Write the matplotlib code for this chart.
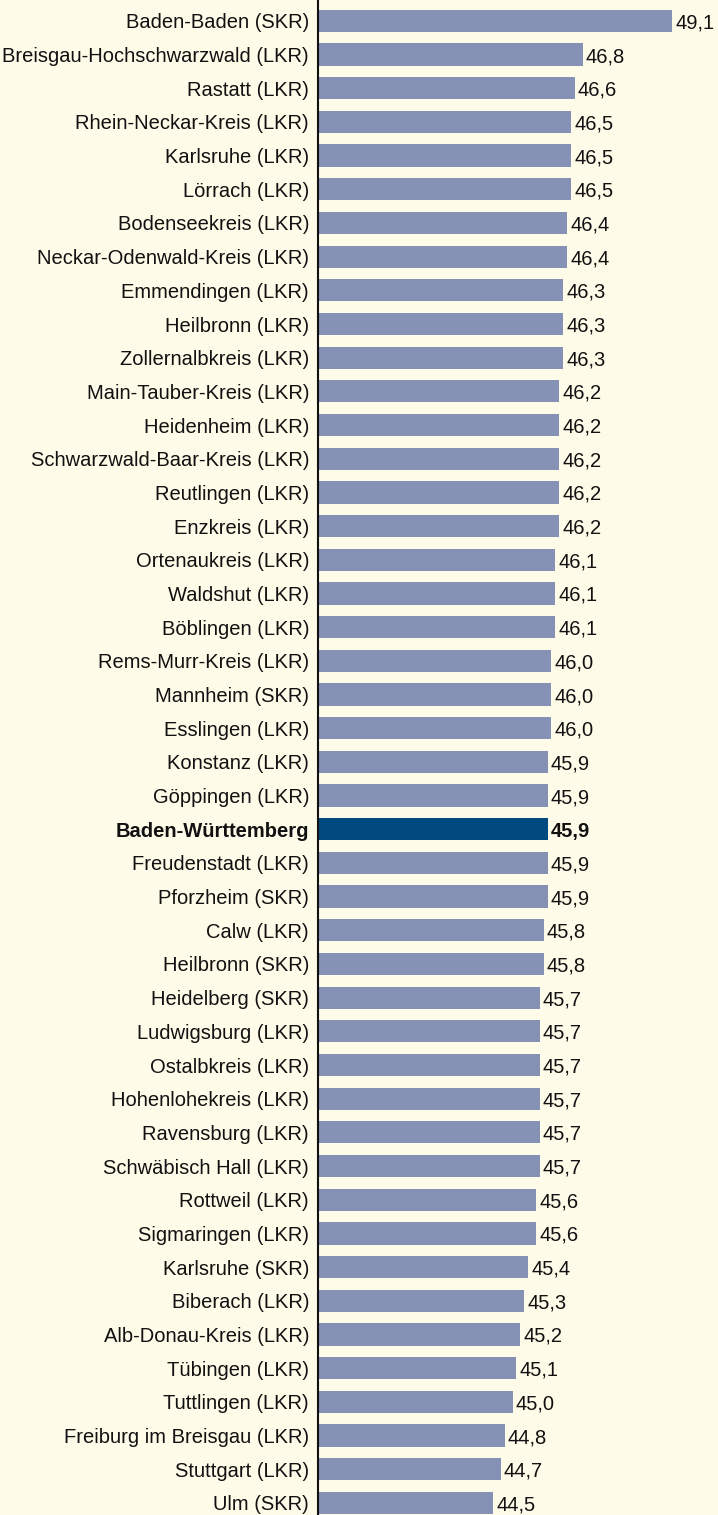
import matplotlib
matplotlib.use("Agg")
import matplotlib.pyplot as plt

labels = ["Baden-Baden (SKR)", "Breisgau-Hochschwarzwald (LKR)", "Rastatt (LKR)",
          "Rhein-Neckar-Kreis (LKR)", "Karlsruhe (LKR)", "Lörrach (LKR)",
          "Bodenseekreis (LKR)", "Neckar-Odenwald-Kreis (LKR)", "Emmendingen (LKR)",
          "Heilbronn (LKR)", "Zollernalbkreis (LKR)", "Main-Tauber-Kreis (LKR)",
          "Heidenheim (LKR)", "Schwarzwald-Baar-Kreis (LKR)", "Reutlingen (LKR)",
          "Enzkreis (LKR)", "Ortenaukreis (LKR)", "Waldshut (LKR)", "Böblingen (LKR)",
          "Rems-Murr-Kreis (LKR)", "Mannheim (SKR)", "Esslingen (LKR)", "Konstanz (LKR)",
          "Göppingen (LKR)", "Baden-Württemberg", "Freudenstadt (LKR)", "Pforzheim (SKR)",
          "Calw (LKR)", "Heilbronn (SKR)", "Heidelberg (SKR)", "Ludwigsburg (LKR)",
          "Ostalbkreis (LKR)", "Hohenlohekreis (LKR)", "Ravensburg (LKR)",
          "Schwäbisch Hall (LKR)", "Rottweil (LKR)", "Sigmaringen (LKR)",
          "Karlsruhe (SKR)", "Biberach (LKR)", "Alb-Donau-Kreis (LKR)", "Tübingen (LKR)",
          "Tuttlingen (LKR)", "Freiburg im Breisgau (LKR)", "Stuttgart (LKR)", "Ulm (SKR)"]
values = [49.1, 46.8, 46.6, 46.5, 46.5, 46.5, 46.4, 46.4, 46.3, 46.3, 46.3, 46.2,
          46.2, 46.2, 46.2, 46.2, 46.1, 46.1, 46.1, 46.0, 46.0, 46.0, 45.9, 45.9,
          45.9, 45.9, 45.9, 45.8, 45.8, 45.7, 45.7, 45.7, 45.7, 45.7, 45.7, 45.6,
          45.6, 45.4, 45.3, 45.2, 45.1, 45.0, 44.8, 44.7, 44.5]
highlight = "Baden-Württemberg"

plt.rcParams['font.family'] = ['Liberation Sans', 'DejaVu Sans']
bg = "#fffbe9"

fig = plt.figure(figsize=(7.18, 15.15), dpi=100, facecolor=bg)
ax = fig.add_axes([318 / 718, 0, 1 - 318 / 718, 1])
ax.set_facecolor(bg)

ypos = list(range(len(labels)))
colors = ["#004a7f" if l == highlight else "#8591b5" for l in labels]
ax.barh(ypos, [v - 40 for v in values], left=40, height=0.66, color=colors)

for y, l, v in zip(ypos, labels, values):
    bold = "bold" if l == highlight else "normal"
    ax.text(v + 0.08, y, f"{v:.1f}".replace(".", ","), va="center_baseline",
            ha="left", fontsize=14.5, fontweight=bold, color="#111111")
    ax.text(39.77, y, l, va="center_baseline", ha="right", fontsize=14.5,
            fontweight=bold, color="#111111")

ax.set_xlim(40, 50.28)
ax.set_ylim(len(labels) - 1 + 0.36, -0.62)
ax.set_xticks([])
ax.set_yticks([])
for s in ["top", "right", "bottom"]:
    ax.spines[s].set_visible(False)
ax.spines["left"].set_linewidth(1.5)
ax.spines["left"].set_color("#111111")

fig.savefig("out.png", dpi=100, facecolor=bg)
